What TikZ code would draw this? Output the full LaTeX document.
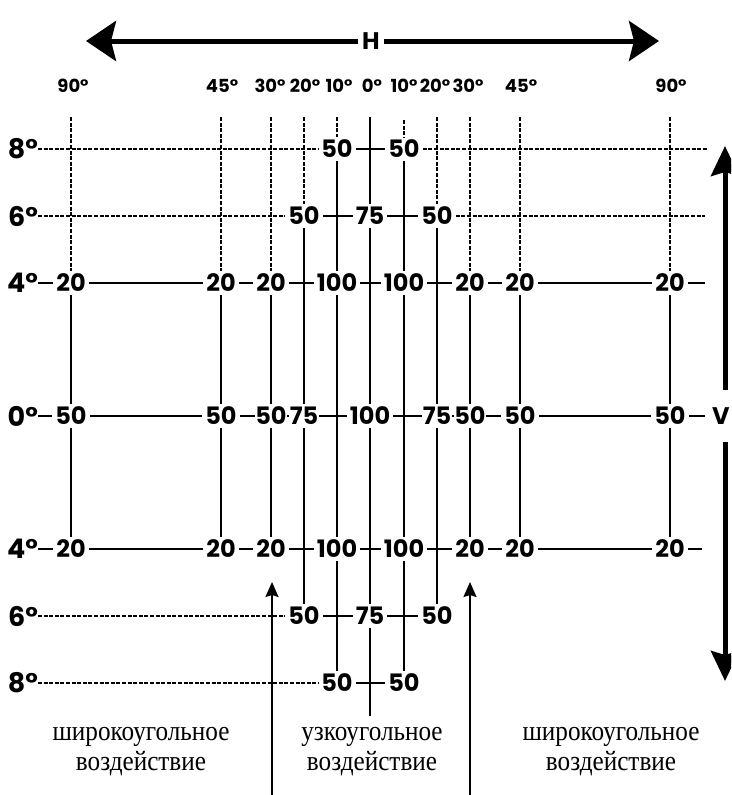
\documentclass[tikz,border=0pt]{standalone}
\usepackage{fontspec}
\newfontfamily\numfont{Poppins}
\newfontfamily\capfont{Liberation Serif}[FakeStretch=0.9]
\usetikzlibrary{arrows.meta}

\begin{document}
\begin{tikzpicture}[x=1pt,y=-1pt,
    num/.style={inner sep=3pt,font=\numfont\bfseries\fontsize{24}{24}\selectfont},
    rowlab/.style={inner sep=0pt,anchor=east,font=\numfont\bfseries\fontsize{27}{27}\selectfont},
    toplab/.style={inner sep=0pt,font=\numfont\bfseries\fontsize{18}{18}\selectfont},
    axlab/.style={inner sep=4pt,font=\numfont\bfseries\fontsize{24}{24}\selectfont},
    caption/.style={align=center,inner sep=0pt,font=\capfont\fontsize{28}{30}\selectfont},
    solidline/.style={line width=2pt},
    guide/.style={line width=2.2pt,dash pattern=on 4pt off 1.6pt},
    harrow/.style={line width=5pt,-{Stealth[length=30pt,width=40pt,inset=5pt]}},
    varrow/.style={line width=5pt,-{Stealth[length=30pt,width=28pt,inset=4pt]}},
    thinarrow/.style={line width=2pt,-{Stealth[length=15pt,width=13pt,inset=2pt]}}]
    \useasboundingbox (0,0) rectangle (731,795);
    \clip (0,0) rectangle (731,795);

    % H axis
    \node[axlab] (H) at (371,41) {H};
    \coordinate (hl) at (86,41);
    \coordinate (hr) at (659,41);
    \draw[harrow] (H) -- (hl);
    \draw[harrow] (H) -- (hr);

    % angle labels on top
    \foreach \nm/\x/\t in {L90/73/90, L45/222/45, L30/270/30, L20/305/20, L10/339/10,
        C0/372/0, R10/404/10, R20/435/20, R30/468/30, R45/521/45, R90/671/90} {
        \node[toplab] (t-\nm) at (\x,86) {\t°};
    }

    % row labels
    \foreach \r/\y/\t in {a/149/8, b/216/6, c/283/4, d/416/0, e/549/4, f/616/6, g/683/8} {
        \node[rowlab] (lab-\r) at (38,\y) {\t°};
    }

    % outer columns: 20 - 50 - 20
    \foreach \nm/\x in {L90/71, L45/221, L30/271, R30/470, R45/520, R90/670} {
        \coordinate (top-\nm) at (\x,117);
        \node[num] (c-\nm) at (\x,283) {20};
        \node[num] (e-\nm) at (\x,549) {20};
        \draw[guide] (top-\nm) -- (c-\nm);
    }
    \foreach \nm/\x in {L90/71, L45/221, R45/520, R90/670} {
        \node[num] (d-\nm) at (\x,416) {50};
    }
    \node[num,inner xsep=0.5pt] (d-L30) at (271,416) {50};
    \node[num,inner xsep=0.5pt] (d-R30) at (470,416) {50};
    \foreach \nm in {L90, L45, L30, R30, R45, R90} {
        \draw[solidline] (c-\nm) -- (d-\nm) -- (e-\nm);
    }

    % 20 degree columns
    \node[num] (b-L20) at (304,216) {50};
    \node[num] (b-R20) at (437,216) {50};
    \node[num,inner xsep=0.5pt] (d-L20) at (304,416) {75};
    \node[num,inner xsep=0.5pt] (d-R20) at (437,416) {75};
    \node[num] (f-L20) at (304,616) {50};
    \node[num] (f-R20) at (437,616) {50};
    \coordinate (top-L20) at (304,117);
    \coordinate (top-R20) at (437,117);

    % 10 degree columns
    \node[num] (a-L10) at (337,149) {50};
    \node[num] (a-R10) at (404,149) {50};
    \node[num] (c-L10) at (337,283) {100};
    \node[num] (c-R10) at (404,283) {100};
    \node[num] (e-L10) at (337,549) {100};
    \node[num] (e-R10) at (404,549) {100};
    \node[num] (g-L10) at (337,683) {50};
    \node[num] (g-R10) at (404,683) {50};
    \coordinate (top-L10) at (337,117);
    \coordinate (top-R10) at (404,120);

    % 0 degree column
    \node[num] (b-C0) at (370,216) {75};
    \node[num] (d-C0) at (370,416) {100};
    \node[num] (f-C0) at (370,616) {75};
    \coordinate (top-C0) at (370,117);
    \coordinate (bot-C0) at (370,716);

    % verticals
    \draw[guide] (top-L20) -- (b-L20);
    \draw[guide] (top-R20) -- (b-R20);
    \draw[guide] (top-L10) -- (a-L10);
    \draw[guide] (top-R10) -- (a-R10);
    \draw[solidline] (b-L20) -- (d-L20) -- (f-L20);
    \draw[solidline] (b-R20) -- (d-R20) -- (f-R20);
    \draw[solidline] (a-L10) -- (c-L10) -- (e-L10) -- (g-L10);
    \draw[solidline] (a-R10) -- (c-R10) -- (e-R10) -- (g-R10);
    \draw[solidline] (top-C0) -- (b-C0) -- (d-C0) -- (f-C0) -- (bot-C0);

    % horizontals
    \coordinate (end-a) at (707,149);
    \coordinate (end-b) at (705,216);
    \coordinate (end-c) at (705,283);
    \coordinate (end-d) at (705,416);
    \coordinate (end-e) at (702,549);
    \draw[guide] (lab-a) -- (a-L10);
    \draw[solidline] (a-L10) -- (a-R10);
    \draw[guide] (a-R10) -- (end-a);
    \draw[guide] (lab-b) -- (b-L20);
    \draw[solidline] (b-L20) -- (b-C0) -- (b-R20);
    \draw[guide] (b-R20) -- (end-b);
    \draw[solidline] (lab-c) -- (c-L90) -- (c-L45) -- (c-L30) -- (c-L10) -- (c-R10)
        -- (c-R30) -- (c-R45) -- (c-R90) -- (end-c);
    \draw[solidline] (lab-d) -- (d-L90) -- (d-L45) -- (d-L30) -- (d-L20) -- (d-C0)
        -- (d-R20) -- (d-R30) -- (d-R45) -- (d-R90) -- (end-d);
    \draw[solidline] (lab-e) -- (e-L90) -- (e-L45) -- (e-L30) -- (e-L10) -- (e-R10)
        -- (e-R30) -- (e-R45) -- (e-R90) -- (end-e);
    \draw[guide] (lab-f) -- (f-L20);
    \draw[solidline] (f-L20) -- (f-C0) -- (f-R20);
    \draw[guide] (lab-g) -- (g-L10);
    \draw[solidline] (g-L10) -- (g-R10);

    % V axis
    \node[axlab,inner ysep=17pt] (V) at (721,416) {V};
    \coordinate (vt) at (725,146);
    \coordinate (vb) at (725,681);
    \draw[varrow] (V.north -| vt) -- (vt);
    \draw[varrow] (V.south -| vb) -- (vb);

    % arrows from below
    \coordinate (foot-l) at (272,795);
    \coordinate (tip-l) at (272,582);
    \coordinate (foot-r) at (470,795);
    \coordinate (tip-r) at (470,582);
    \draw[thinarrow] (foot-l) -- (tip-l);
    \draw[thinarrow] (foot-r) -- (tip-r);

    % captions
    \node[caption] (cap-l) at (141,752) {широкоугольное\\воздействие};
    \node[caption] (cap-m) at (372,752) {узкоугольное\\воздействие};
    \node[caption] (cap-r) at (611,752) {широкоугольное\\воздействие};
\end{tikzpicture}
\end{document}
